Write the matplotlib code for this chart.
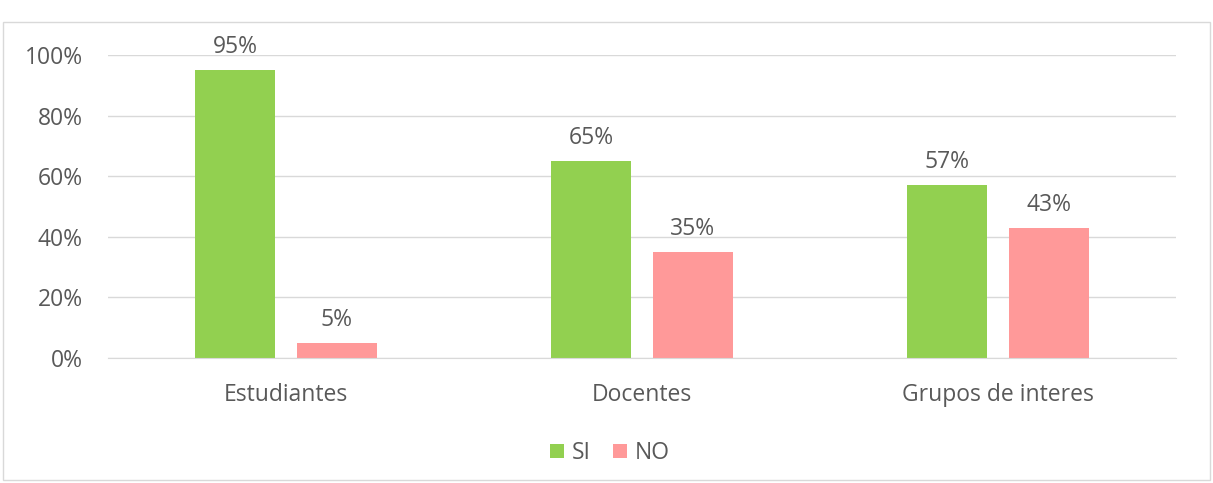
import numpy as np
import matplotlib.pyplot as plt
from matplotlib.patches import Rectangle

categories = ['Estudiantes', 'Docentes', 'Grupos de interes']
si = [0.95, 0.65, 0.57]
no = [0.05, 0.35, 0.43]
si_labels = ['95%', '65%', '57%']
no_labels = ['5%', '35%', '43%']

plt.rcParams['font.family'] = ['Open Sans', 'DejaVu Sans']
grey = '#595959'
fs = 16.5

fig = plt.figure(figsize=(12.13, 4.83), dpi=100)
ax = fig.add_axes([108 / 1213, 1 - 358 / 483, (1176 - 108) / 1213, (358 - 55) / 483])

fig.patches.append(Rectangle((3 / 1213, 3 / 483), 1207 / 1213, (480 - 22) / 483,
                             transform=fig.transFigure, fill=False,
                             edgecolor='#d9d9d9', linewidth=1))

x = np.arange(len(categories))
w = 0.225
off = 0.143
b1 = ax.bar(x - off, si, w, color='#92D050', label='SI', zorder=2)
b2 = ax.bar(x + off, no, w, color='#FF9999', label='NO', zorder=2)

for bars, labs in ((b1, si_labels), (b2, no_labels)):
    for r, lab in zip(bars, labs):
        ax.annotate(lab, (r.get_x() + r.get_width() / 2, r.get_height()),
                    xytext=(0, 8), textcoords='offset points',
                    ha='center', va='bottom', fontsize=fs, color=grey)

ax.set_xlim(-0.5, 2.5)
ax.set_ylim(0, 1)
ax.set_yticks(np.arange(0, 1.01, 0.2))
ax.set_yticklabels([f'{int(round(v * 100))}%' for v in np.arange(0, 1.01, 0.2)])
ax.set_xticks(x)
ax.set_xticklabels(categories)
ax.tick_params(axis='both', length=0, labelsize=fs, colors=grey)
ax.tick_params(axis='x', pad=18)
ax.tick_params(axis='y', pad=18)
ax.grid(axis='y', color='#d9d9d9', linewidth=1, zorder=0)
for s in ['top', 'right', 'left']:
    ax.spines[s].set_visible(False)
ax.spines['bottom'].set_color('#d9d9d9')

leg = fig.legend(loc='center', bbox_to_anchor=(610 / 1213, 1 - 453 / 483), ncol=2,
                 frameon=False, fontsize=fs, handlelength=0.6, handleheight=0.6,
                 handletextpad=0.35, columnspacing=1.0, labelcolor=grey)

fig.savefig('out.png', dpi=100)
